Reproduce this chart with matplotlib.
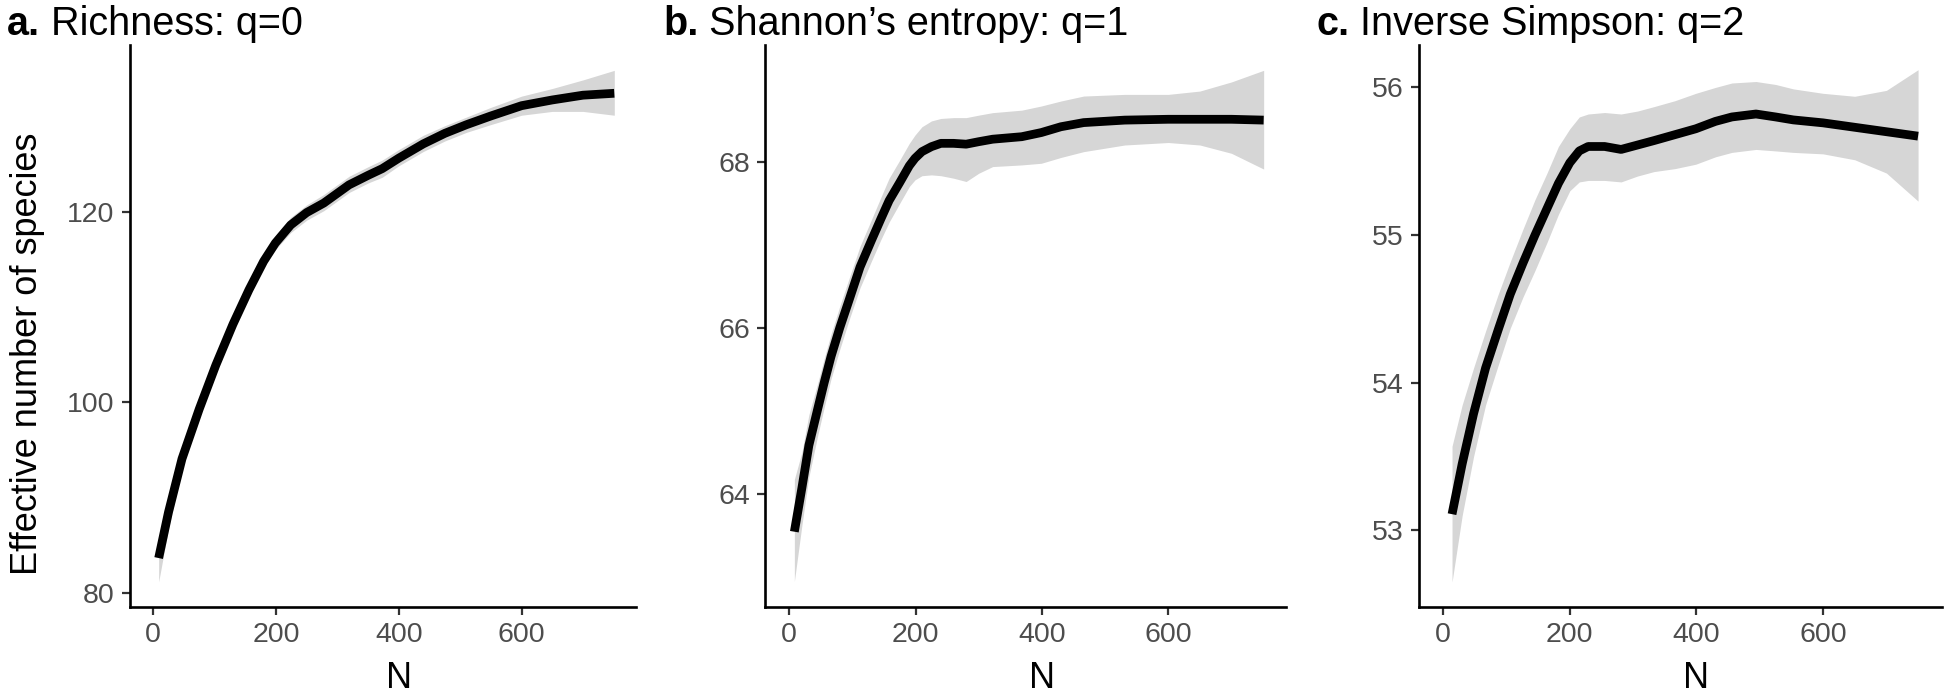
import numpy as np
import matplotlib
matplotlib.use('Agg')
import matplotlib.pyplot as plt
import matplotlib.transforms as mtransforms

plt.rcParams['font.family'] = ['Liberation Sans', 'DejaVu Sans']

# ---- panel a: richness (q=0)
a_x = [9, 25, 47, 75, 102, 130, 156, 180, 199, 224, 250, 278, 319, 350, 373, 400,
       440, 475, 510, 549, 600, 650, 700, 751]
a_y = [83.7, 88.5, 94.1, 99.3, 103.9, 108.2, 111.8, 114.8, 116.7, 118.6, 119.9, 120.9,
       122.8, 123.8, 124.5, 125.6, 127.1, 128.2, 129.1, 130.0, 131.1, 131.7, 132.2, 132.4]
a_lo = [81.2, 86.8, 93.0, 98.5, 103.2, 107.5, 111.1, 114.1, 116.0, 117.8, 119.1, 120.1,
        122.0, 123.0, 123.6, 124.8, 126.3, 127.4, 128.3, 129.1, 130.1, 130.5, 130.5, 130.1]
a_hi = [84.6, 89.6, 95.0, 100.1, 104.6, 108.9, 112.5, 115.5, 117.5, 119.4, 120.7, 121.8,
        123.7, 124.7, 125.4, 126.5, 128.0, 129.0, 129.9, 130.9, 132.1, 132.9, 133.8, 134.8]

# ---- panel b: Shannon (q=1)
b_x = [8, 20, 31, 45, 55, 66, 80, 95, 112, 130, 145, 158, 175, 190, 199, 210, 225, 240,
       260, 280, 300, 322, 368, 399, 430, 466, 531, 600, 650, 700, 751]
b_y = [63.54, 64.07, 64.58, 65.02, 65.33, 65.65, 66.0, 66.34, 66.73, 67.05, 67.31, 67.53,
       67.75, 67.95, 68.04, 68.12, 68.18, 68.22, 68.22, 68.21, 68.24, 68.27, 68.30, 68.35,
       68.42, 68.47, 68.50, 68.51, 68.51, 68.51, 68.50]
b_lo = [62.94, 63.62, 64.2, 64.7, 65.03, 65.38, 65.74, 66.1, 66.48, 66.8, 67.06, 67.27,
        67.5, 67.7, 67.78, 67.83, 67.84, 67.83, 67.8, 67.76, 67.86, 67.94, 67.96, 67.98,
        68.05, 68.12, 68.2, 68.23, 68.2, 68.1, 67.91]
b_hi = [64.17, 64.5, 64.95, 65.33, 65.62, 65.92, 66.26, 66.6, 66.98, 67.3, 67.57, 67.8,
        68.02, 68.22, 68.32, 68.42, 68.49, 68.52, 68.53, 68.53, 68.56, 68.59, 68.62, 68.67,
        68.73, 68.79, 68.81, 68.81, 68.85, 68.96, 69.10]

# ---- panel c: inverse Simpson (q=2)
c_x = [14, 30, 48, 67, 87, 106, 126, 145, 164, 182, 200, 215, 229, 255, 281, 307, 333,
       366, 399, 430, 456, 494, 525, 553, 600, 650, 700, 750]
c_y = [53.11, 53.45, 53.79, 54.1, 54.36, 54.6, 54.81, 55.0, 55.18, 55.35, 55.49, 55.57,
       55.60, 55.60, 55.58, 55.61, 55.64, 55.68, 55.72, 55.77, 55.80, 55.82, 55.80, 55.78,
       55.76, 55.73, 55.70, 55.67]
c_lo = [52.65, 53.1, 53.5, 53.85, 54.12, 54.37, 54.58, 54.76, 54.95, 55.14, 55.3, 55.36,
        55.37, 55.37, 55.36, 55.4, 55.43, 55.45, 55.48, 55.53, 55.56, 55.58, 55.57, 55.56,
        55.55, 55.51, 55.42, 55.23]
c_hi = [53.57, 53.85, 54.1, 54.35, 54.6, 54.82, 55.04, 55.24, 55.42, 55.6, 55.72, 55.8,
        55.82, 55.83, 55.82, 55.84, 55.87, 55.91, 55.96, 56.0, 56.03, 56.04, 56.02, 55.99,
        55.96, 55.94, 55.98, 56.12]

tags = ['a.', 'b.', 'c.']
titles = [' Richness: q=0', ' Shannon\u2019s entropy: q=1', ' Inverse Simpson: q=2']
x_ticks = [0, 200, 400, 600]
y_ticks = [[80, 100, 120], [64, 66, 68], [53, 54, 55, 56]]
y_lims = [(78.55, 137.5), (62.63, 69.41), (52.48, 56.29)]

panels = [(a_x, a_y, a_lo, a_hi), (b_x, b_y, b_lo, b_hi), (c_x, c_y, c_lo, c_hi)]

W, H = 1944, 699
fig = plt.figure(figsize=(W / 100, H / 100), dpi=100)

# panel boxes in pixels: left, right (top/bottom shared)
boxes = [(129.8, 636.4), (765.3, 1286.4), (1419.1, 1941.5)]
top, bottom = 44.6, 607.2
title_x = [7, 663, 1316]

for i, (xs, ys, lo, hi) in enumerate(panels):
    l, r = boxes[i]
    ax = fig.add_axes([l / W, (H - bottom) / H, (r - l) / W, (bottom - top) / H])
    ax.fill_between(xs, lo, hi, color='#D6D6D6', lw=0)
    ax.plot(xs, ys, color='black', lw=6.3, solid_capstyle='butt', solid_joinstyle='round')
    ax.set_xlim(-38, 787)
    ax.set_ylim(*y_lims[i])
    ax.set_xticks(x_ticks)
    ax.set_yticks(y_ticks[i])
    for s in ['top', 'right']:
        ax.spines[s].set_visible(False)
    for s in ['left', 'bottom']:
        ax.spines[s].set_linewidth(1.9)
        ax.spines[s].set_color('black')
    ax.tick_params(length=6, width=1.6, color='#333333', labelsize=20.5,
                   labelcolor='#4D4D4D', pad=5)
    ax.set_xlabel('N', fontsize=26, va='bottom')
    ax.xaxis.set_label_coords(400, -0.1585,
                              transform=mtransforms.blended_transform_factory(ax.transData, ax.transAxes))
    if i == 0:
        ax.set_ylabel('Effective number of species', fontsize=26, va='baseline')
        ax.yaxis.set_label_coords(-0.183, 0.45)

# panel titles: bold letter then plain text
fig.canvas.draw()
rend = fig.canvas.get_renderer()
for i in range(3):
    t = fig.text(title_x[i] / W, (H - 35) / H, tags[i], fontsize=28.5, fontweight='bold',
                 va='baseline', ha='left')
    bb = t.get_window_extent(rend)
    fig.text(bb.x1 / W, (H - 35) / H, titles[i], fontsize=28.5, va='baseline', ha='left')

fig.savefig('out.png', dpi=100)
